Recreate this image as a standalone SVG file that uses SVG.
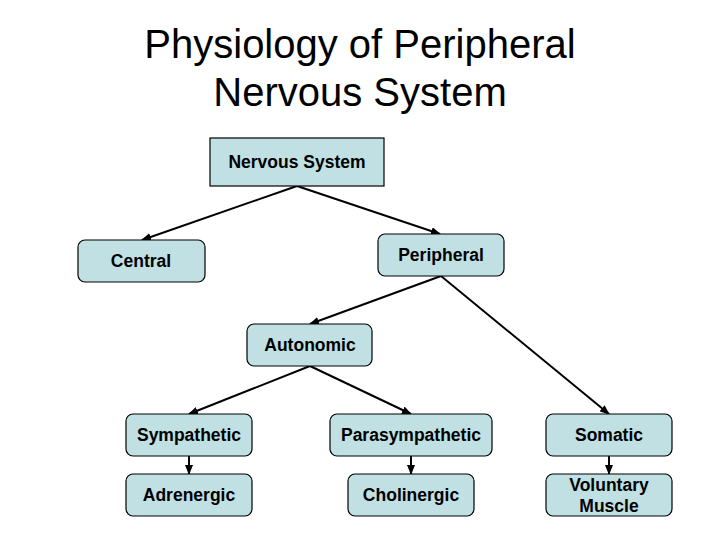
<svg xmlns="http://www.w3.org/2000/svg" width="720" height="540" viewBox="0 0 720 540">
<defs>
<marker id="ah" markerUnits="userSpaceOnUse" markerWidth="10" markerHeight="8" refX="9" refY="4" orient="auto">
<path d="M0,0 L10,4 L0,8 Z" fill="#000"/>
</marker>
<style>
.box{fill:#c0e0e3;stroke:#000;stroke-width:1.2}
.lbl{font-family:"Liberation Sans",Arial,sans-serif;font-weight:bold;font-size:17.5px;text-anchor:middle;fill:#000}
.title{font-family:"Liberation Sans",Arial,sans-serif;font-size:40px;text-anchor:middle;fill:#000}
.con{stroke:#000;stroke-width:2;fill:none;marker-end:url(#ah)}
</style>
</defs>
<rect width="720" height="540" fill="#fff"/>
<g id="title">
<text class="title" x="360" y="58">Physiology of Peripheral</text>
<text class="title" x="360" y="106">Nervous System</text>
</g>
<g id="connectors">
<line class="con" x1="297" y1="186" x2="142" y2="240"/>
<line class="con" x1="297" y1="186" x2="440" y2="234"/>
<line class="con" x1="441" y1="276" x2="310" y2="324"/>
<line class="con" x1="441" y1="276" x2="609" y2="414"/>
<line class="con" x1="310" y1="366" x2="189" y2="414"/>
<line class="con" x1="310" y1="366" x2="411" y2="414"/>
<line class="con" x1="189" y1="456" x2="189" y2="474"/>
<line class="con" x1="411" y1="456" x2="411" y2="474"/>
<line class="con" x1="609" y1="456" x2="609" y2="474"/>
</g>
<g id="nervous-system">
<rect class="box" x="210" y="138" width="174" height="48"/>
<text class="lbl" x="297" y="168">Nervous System</text>
</g>
<g id="central">
<rect class="box" x="78" y="240" width="127" height="42" rx="7"/>
<text class="lbl" x="141" y="267">Central</text>
</g>
<g id="peripheral">
<rect class="box" x="378" y="234" width="126" height="42" rx="7"/>
<text class="lbl" x="441" y="261">Peripheral</text>
</g>
<g id="autonomic">
<rect class="box" x="247" y="324" width="125" height="42" rx="7"/>
<text class="lbl" x="310" y="351">Autonomic</text>
</g>
<g id="sympathetic">
<rect class="box" x="126" y="414" width="126" height="42" rx="7"/>
<text class="lbl" x="189" y="441">Sympathetic</text>
</g>
<g id="parasympathetic">
<rect class="box" x="330" y="414" width="162" height="42" rx="7"/>
<text class="lbl" x="411" y="441">Parasympathetic</text>
</g>
<g id="somatic">
<rect class="box" x="546" y="414" width="126" height="42" rx="7"/>
<text class="lbl" x="609" y="441">Somatic</text>
</g>
<g id="adrenergic">
<rect class="box" x="126" y="474" width="126" height="42" rx="7"/>
<text class="lbl" x="189" y="501">Adrenergic</text>
</g>
<g id="cholinergic">
<rect class="box" x="348" y="474" width="126" height="42" rx="7"/>
<text class="lbl" x="411" y="501">Cholinergic</text>
</g>
<g id="voluntary-muscle">
<rect class="box" x="546" y="474" width="126" height="42" rx="7"/>
<text class="lbl" x="609" y="491">Voluntary</text>
<text class="lbl" x="609" y="512">Muscle</text>
</g>
</svg>
